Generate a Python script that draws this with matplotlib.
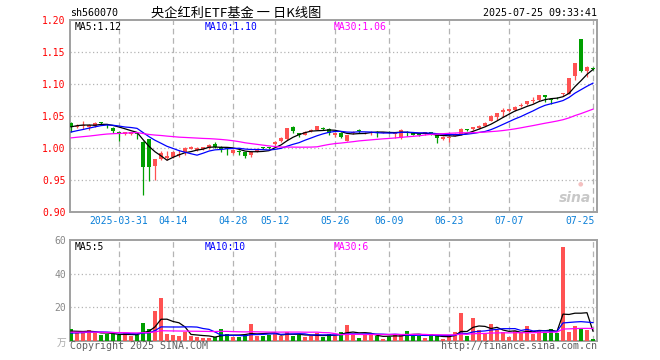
import numpy as np
import pandas as pd
import matplotlib
matplotlib.use('Agg')
import matplotlib.pyplot as plt
from matplotlib.transforms import blended_transform_factory

plt.rcParams['font.family'] = ['DejaVu Sans Mono', 'Noto Sans CJK SC']

# daily bars, 2025-03-19 .. 2025-07-25
opens = [1.0396, 1.033, 1.034, 1.033, 1.0345, 1.0395, 1.0375, 1.032, 1.025, 1.0215,
         1.0225, 1.024, 1.0099, 1.0135, 0.9719, 0.9829, 0.9839, 0.9865, 0.9885, 0.9943,
         0.999, 0.997, 0.999, 1.000, 1.007, 1.002, 1.000, 0.992, 0.995, 0.993,
         0.989, 0.994, 1.000, 1.0005, 1.0057, 1.0109, 1.0135, 1.0333, 1.0234, 1.0208,
         1.026, 1.0281, 1.0318, 1.0292, 1.0198, 1.0240, 1.0115, 1.0229, 1.0281, 1.0229,
         1.0240, 1.0255, 1.0240, 1.0250, 1.0220, 1.0151, 1.0255, 1.0245, 1.0214, 1.0214,
         1.0245, 1.0203, 1.0146, 1.0156, 1.0193, 1.0219, 1.0297, 1.0292, 1.0307, 1.0344,
         1.0422, 1.0479, 1.0568, 1.0583, 1.0594, 1.0656, 1.0682, 1.0734, 1.0750, 1.0828,
         1.0766, 1.0786, 1.0850, 1.0844, 1.1125, 1.1703, 1.1208, 1.1255]
closes = [1.0323, 1.035, 1.036, 1.036, 1.0385, 1.0390, 1.0355, 1.027, 1.024, 1.0245,
          1.0245, 1.022, 0.9708, 0.9710, 0.9823, 0.9927, 0.9875, 0.9937, 0.990, 0.9995,
          1.001, 0.9995, 1.001, 1.005, 1.001, 0.999, 0.999, 0.997, 0.994, 0.987,
          0.994, 0.999, 0.9995, 0.9995, 1.0099, 1.0161, 1.0313, 1.0271, 1.0198, 1.0255,
          1.028, 1.0344, 1.0292, 1.0240, 1.0229, 1.0177, 1.0203, 1.0245, 1.0271, 1.0240,
          1.0250, 1.0240, 1.0245, 1.0240, 1.0230, 1.0281, 1.0229, 1.0203, 1.0198, 1.0245,
          1.0214, 1.0151, 1.0167, 1.0177, 1.0219, 1.0297, 1.0287, 1.0323, 1.0349, 1.0396,
          1.0505, 1.0542, 1.0594, 1.0604, 1.0646, 1.0672, 1.0734, 1.0750, 1.0828, 1.0792,
          1.0750, 1.0776, 1.0860, 1.1089, 1.1323, 1.1208, 1.1271, 1.1240]
highs = [1.040, 1.037, 1.0427, 1.037, 1.040, 1.041, 1.038, 1.033, 1.026, 1.025,
         1.025, 1.025, 1.0105, 1.014, 0.983, 0.995, 0.9958, 0.995, 0.997, 1.002,
         1.003, 1.001, 1.002, 1.006, 1.0095, 1.003, 1.001, 0.998, 0.997, 0.994,
         0.995, 1.000, 1.002, 1.001, 1.011, 1.017, 1.032, 1.0344, 1.024, 1.026,
         1.029, 1.035, 1.033, 1.0307, 1.024, 1.025, 1.021, 1.026, 1.0292, 1.025,
         1.026, 1.026, 1.025, 1.026, 1.0245, 1.029, 1.026, 1.025, 1.022, 1.025,
         1.025, 1.021, 1.018, 1.019, 1.023, 1.0305, 1.030, 1.033, 1.036, 1.0405,
         1.051, 1.055, 1.062, 1.0615, 1.0655, 1.0698, 1.074, 1.0802, 1.0835, 1.0835,
         1.0776, 1.080, 1.0865, 1.110, 1.133, 1.1708, 1.128, 1.1258]
lows = [1.0255, 1.031, 1.030, 1.028, 1.033, 1.037, 1.032, 1.024, 1.0115, 1.020,
        1.021, 1.0135, 0.9266, 0.9490, 0.950, 0.981, 0.9813, 0.985, 0.9865, 0.989,
        0.998, 0.996, 0.997, 0.999, 1.000, 0.994, 0.989, 0.991, 0.989, 0.984,
        0.986, 0.993, 0.998, 0.999, 1.005, 1.010, 1.013, 1.024, 1.0167, 1.020,
        1.025, 1.0275, 1.028, 1.0198, 1.0177, 1.0151, 1.011, 1.022, 1.0229, 1.022,
        1.0203, 1.0177, 1.023, 1.023, 1.0151, 1.0145, 1.0193, 1.0198, 1.019, 1.021,
        1.021, 1.0083, 1.013, 1.010, 1.018, 1.021, 1.027, 1.0285, 1.030, 1.034,
        1.0415, 1.0437, 1.049, 1.057, 1.058, 1.0635, 1.0675, 1.0698, 1.074, 1.0724,
        1.0687, 1.076, 1.081, 1.084, 1.1063, 1.1193, 1.1115, 1.1225]
# volume in 万
volumes = [6.9, 4.5, 5.5, 6.3, 4.5, 3.3, 4.3, 4.0, 3.3, 4.8,
           2.8, 3.8, 10.5, 7.1, 17.8, 25.4, 4.0, 3.7, 3.2, 5.6,
           3.0, 2.4, 2.0, 2.0, 2.2, 7.0, 4.0, 2.3, 2.3, 3.5,
           10.0, 3.0, 3.1, 3.8, 4.4, 3.2, 5.6, 3.0, 3.8, 2.4,
           2.8, 4.8, 2.4, 4.4, 2.8, 5.6, 9.4, 4.4, 2.0, 3.4,
           4.0, 3.0, 1.4, 2.4, 4.4, 3.6, 6.2, 3.0, 3.0, 2.0,
           4.4, 3.0, 1.0, 2.4, 5.6, 16.4, 2.8, 13.4, 6.4, 4.4,
           10.0, 6.4, 5.4, 2.4, 6.0, 5.4, 9.2, 4.4, 6.4, 5.0,
           7.4, 5.0, 56.0, 5.4, 8.8, 7.4, 6.4, 1.4]

# days before the visible window, only so the moving averages start where they do
prev_closes = [1.005, 1.008, 1.010, 1.006, 1.004, 1.007, 1.011, 1.013, 1.010, 1.008,
               1.012, 1.015, 1.014, 1.011, 1.013, 1.016, 1.018, 1.015, 1.013, 1.016,
               1.014, 1.017, 1.015, 1.018, 1.020, 1.026, 1.031, 1.036, 1.040]
prev_volumes = [5.0, 4.2, 6.1, 5.5, 4.8, 7.2, 5.9, 4.6, 5.3, 6.8,
                4.9, 5.7, 6.4, 4.4, 5.1, 6.0, 5.5, 4.7, 6.6, 5.3,
                3.2, 3.9, 3.5, 3.6, 3.3, 5.2, 6.1, 5.4, 5.9]

tick_pos = [8, 17, 27, 34, 44, 53, 63, 73, 87]
tick_labels = ['2025-03-31', '04-14', '04-28', '05-12', '05-26', '06-09', '06-23', '07-07', '07-25']
price_ma_labels = ['MA5:1.12', 'MA10:1.10', 'MA30:1.06']
vol_ma_labels = ['MA5:5', 'MA10:10', 'MA30:6']

UP = '#ff5252'
DOWN = '#009f00'
MA_COLORS = ['#000000', '#0000ff', '#ff00ff']
GRID = '#b4b4b4'
SPINE = '#a0a0a0'

W, H = 660, 360


def box(l, t, r, b):
    return [l / W, 1 - b / H, (r - l) / W, (b - t) / H]


fig = plt.figure(figsize=(W / 100, H / 100), dpi=100)
fig.patch.set_facecolor('white')
ax = fig.add_axes(box(70, 20, 597, 212))
axv = fig.add_axes(box(70, 240, 597, 341))

x = np.arange(len(closes))
o = np.array(opens)
c = np.array(closes)
colors = np.where(c >= o, UP, DOWN)

n_prev = len(prev_closes)
ps = pd.Series(prev_closes + closes)
vs = pd.Series(prev_volumes + volumes)

for a in (ax, axv):
    a.set_xlim(-0.17, 87.67)
    for p in tick_pos:
        a.axvline(p, color=GRID, lw=0.9, dashes=(4.5, 3), zorder=0)
    for s in a.spines.values():
        s.set_color(SPINE)
        s.set_linewidth(1.4)
    a.tick_params(length=0, labelsize=7)
    a.set_xticks([])

# price panel
ax.set_ylim(0.90, 1.20)
yt = [0.90, 0.95, 1.00, 1.05, 1.10, 1.15, 1.20]
ax.set_yticks(yt)
ax.set_yticklabels(['%.2f' % v for v in yt], color='#ff0000')
ax.tick_params(axis='y', pad=3)
for v in yt[1:-1]:
    ax.axhline(v, color=GRID, lw=0.9, dashes=(1, 2), zorder=0)

ax.vlines(x, lows, highs, colors=colors, lw=0.9, zorder=2)
body_lo = np.minimum(o, c)
body_h = np.maximum(np.abs(c - o), 0.0013)
ax.bar(x, body_h, bottom=body_lo, width=0.8, color=colors, lw=0, zorder=3)

for n, col in zip([5, 10, 30], MA_COLORS):
    ma = ps.rolling(n).mean().iloc[n_prev:].values
    ax.plot(x, ma, color=col, lw=0.9, zorder=4)

for lab, col, fx in zip(price_ma_labels, MA_COLORS, [0.008, 0.255, 0.501]):
    ax.text(fx, 0.962, lab, transform=ax.transAxes, color=col, fontsize=7,
            ha='left', va='center')

tr = blended_transform_factory(ax.transData, ax.transAxes)
for p, lab in zip(tick_pos, tick_labels):
    if p == tick_pos[-1]:
        ax.text(p + 0.35, -0.047, lab, transform=tr, ha='right', va='center',
                color='#0a7fd8', fontsize=7)
    else:
        ax.text(p, -0.047, lab, transform=tr, ha='center', va='center',
                color='#0a7fd8', fontsize=7)

# volume panel
axv.set_ylim(0, 60)
axv.set_yticks([20, 40, 60])
axv.set_yticklabels(['20', '40', '60'], color='#888888')
axv.tick_params(axis='y', pad=3)
for v in [20, 40]:
    axv.axhline(v, color=GRID, lw=0.9, dashes=(1, 2), zorder=0)
axv.bar(x, volumes, width=0.8, color=colors, lw=0, zorder=3)
for n, col in zip([5, 10, 30], MA_COLORS):
    ma = vs.rolling(n).mean().iloc[n_prev:].values
    axv.plot(x, ma, color=col, lw=0.9, zorder=4)
for lab, col, fx in zip(vol_ma_labels, MA_COLORS, [0.008, 0.255, 0.501]):
    axv.text(fx, 0.93, lab, transform=axv.transAxes, color=col, fontsize=7,
             ha='left', va='center')

# header and footer texts
fig.text(70 / W, 1 - 13 / H, 'sh560070', fontsize=7.2, ha='left', va='center')
fig.text(236 / W, 1 - 13 / H, '央企红利ETF基金 一 日K线图', fontsize=9.5,
         ha='center', va='center', family=['Noto Sans CJK SC', 'DejaVu Sans'])
fig.text(597 / W, 1 - 13 / H, '2025-07-25 09:33:41', fontsize=7.2, ha='right', va='center')
fig.text(70 / W, 1 - 346 / H, 'Copyright 2025 SINA.COM', fontsize=7.2, color='#606060',
         ha='left', va='center')
fig.text(597 / W, 1 - 346 / H, 'http://finance.sina.com.cn', fontsize=7.2, color='#606060',
         ha='right', va='center')
fig.text(66 / W, 1 - 343 / H, '万', fontsize=7, color='#aaaaaa', ha='right', va='center',
         family=['Noto Sans CJK SC', 'DejaVu Sans'])
# sina watermark
fig.text(575 / W, 1 - 198 / H, 'sina', fontsize=10, color='#c8c8c8', style='italic',
         weight='bold', ha='center', va='center', family='DejaVu Sans')
fig.text(580 / W, 1 - 184 / H, '●', fontsize=4.5, color='#f4c0c0', ha='center', va='center',
         family='DejaVu Sans')

fig.savefig('out.png', dpi=100)
